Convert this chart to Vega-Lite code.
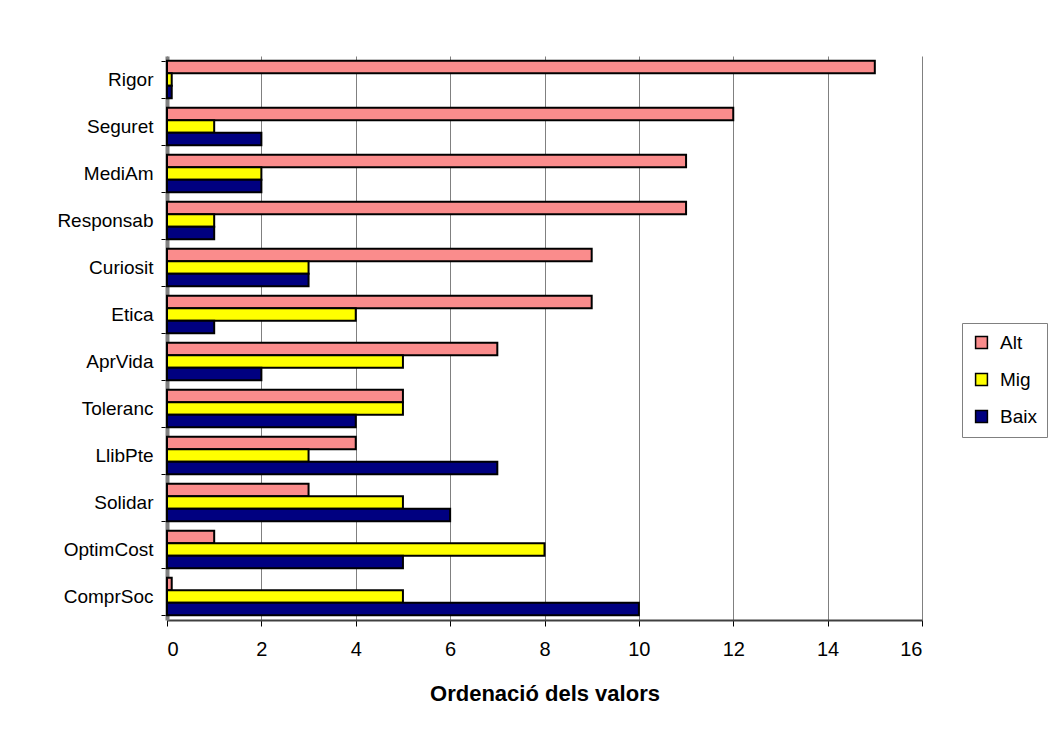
{
  "$schema": "https://vega.github.io/schema/vega-lite/v6.json",
  "width": 755,
  "height": 564,
  "autosize": {"type": "none"},
  "padding": {"left": 167, "top": 56, "right": 132, "bottom": 124},
  "background": "white",
  "config": {
    "font": "Liberation Sans",
    "view": {"stroke": null},
    "axis": {"labelFont": "Liberation Sans", "titleFont": "Liberation Sans"}
  },
  "data": {
    "values": [
      {"cat": "Rigor", "serie": "Alt", "v": 15}, {"cat": "Rigor", "serie": "Mig", "v": 0.1}, {"cat": "Rigor", "serie": "Baix", "v": 0.1},
      {"cat": "Seguret", "serie": "Alt", "v": 12}, {"cat": "Seguret", "serie": "Mig", "v": 1}, {"cat": "Seguret", "serie": "Baix", "v": 2},
      {"cat": "MediAm", "serie": "Alt", "v": 11}, {"cat": "MediAm", "serie": "Mig", "v": 2}, {"cat": "MediAm", "serie": "Baix", "v": 2},
      {"cat": "Responsab", "serie": "Alt", "v": 11}, {"cat": "Responsab", "serie": "Mig", "v": 1}, {"cat": "Responsab", "serie": "Baix", "v": 1},
      {"cat": "Curiosit", "serie": "Alt", "v": 9}, {"cat": "Curiosit", "serie": "Mig", "v": 3}, {"cat": "Curiosit", "serie": "Baix", "v": 3},
      {"cat": "Etica", "serie": "Alt", "v": 9}, {"cat": "Etica", "serie": "Mig", "v": 4}, {"cat": "Etica", "serie": "Baix", "v": 1},
      {"cat": "AprVida", "serie": "Alt", "v": 7}, {"cat": "AprVida", "serie": "Mig", "v": 5}, {"cat": "AprVida", "serie": "Baix", "v": 2},
      {"cat": "Toleranc", "serie": "Alt", "v": 5}, {"cat": "Toleranc", "serie": "Mig", "v": 5}, {"cat": "Toleranc", "serie": "Baix", "v": 4},
      {"cat": "LlibPte", "serie": "Alt", "v": 4}, {"cat": "LlibPte", "serie": "Mig", "v": 3}, {"cat": "LlibPte", "serie": "Baix", "v": 7},
      {"cat": "Solidar", "serie": "Alt", "v": 3}, {"cat": "Solidar", "serie": "Mig", "v": 5}, {"cat": "Solidar", "serie": "Baix", "v": 6},
      {"cat": "OptimCost", "serie": "Alt", "v": 1}, {"cat": "OptimCost", "serie": "Mig", "v": 8}, {"cat": "OptimCost", "serie": "Baix", "v": 5},
      {"cat": "ComprSoc", "serie": "Alt", "v": 0.1}, {"cat": "ComprSoc", "serie": "Mig", "v": 5}, {"cat": "ComprSoc", "serie": "Baix", "v": 10}
    ]
  },
  "mark": {"type": "bar", "stroke": "black", "strokeWidth": 2, "cornerRadius": 0},
  "encoding": {
    "y": {
      "field": "cat", "type": "nominal", "sort": null,
      "scale": {"paddingInner": 0.2, "paddingOuter": 0.1},
      "axis": {
        "title": null, "labelFontSize": 19, "labelColor": "black", "labelPadding": 8,
        "domainColor": "#808080", "domainWidth": 4, "tickColor": "black", "tickSize": 6,
        "tickBand": "extent", "grid": false
      }
    },
    "yOffset": {"field": "serie", "type": "nominal", "sort": ["Alt", "Mig", "Baix"]},
    "x": {
      "field": "v", "type": "quantitative",
      "scale": {"domain": [0, 16], "nice": false},
      "axis": {
        "title": "Ordenació dels valors", "titleFontSize": 22, "titleFontWeight": "bold",
        "titleColor": "black", "titlePadding": 24,
        "labelFontSize": 20, "labelColor": "black", "labelPadding": 13,
        "values": [0, 2, 4, 6, 8, 10, 12, 14, 16], "labelOverlap": false,
        "grid": true, "gridColor": "#808080", "gridWidth": 1,
        "domainColor": "#404040", "domainWidth": 2, "tickColor": "black", "tickSize": 6
      }
    },
    "fill": {
      "field": "serie", "type": "nominal",
      "scale": {"domain": ["Alt", "Mig", "Baix"], "range": ["#fa8c8c", "#ffff00", "#000080"]},
      "legend": {
        "title": null, "orient": "none", "legendX": 795, "legendY": 267,
        "labelFontSize": 19, "labelColor": "black", "symbolType": "square",
        "symbolSize": 140, "symbolStrokeColor": "black", "symbolStrokeWidth": 1.5,
        "rowPadding": 17, "padding": 10, "strokeColor": "#808080", "labelOffset": 9
      }
    }
  }
}
